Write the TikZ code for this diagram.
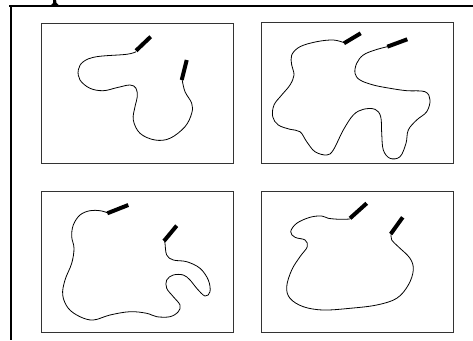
\documentclass[tikz,border=0pt]{standalone}
\begin{document}
\begin{tikzpicture}[x=1pt,y=-1pt,
  frame/.style={draw=black!80,line width=0.9pt},
  rope/.style={draw=black,line width=0.8pt,smooth,tension=0.6},
  handle/.style={draw=black,line width=4pt,line cap=butt},
  border/.style={draw=black,line width=2.2pt}]
\useasboundingbox (0,0) rectangle (473,340);
% outer borders
\draw[border] (9,6) -- (473,6);
\draw[border] (11,6) -- (11,340);
\fill (53,0) -- (56,0) -- (56.5,3) -- (58.5,5) -- (51,5) -- (53,3) -- cycle;
% frames
\draw[frame] (41,23) rectangle (233,163);
\draw[frame] (261,22) rectangle (453,163);
\draw[frame] (41,191) rectangle (233,332);
\draw[frame] (261,191) rectangle (453,332);
% panel 1
\draw[handle] (136,50.7) -- (150.7,36.7);
\draw[handle] (181.7,80) -- (186.7,60);
\draw[rope] plot coordinates {(136,51.7) (126.7,54.3) (96.7,56.7) (83.3,61.7) (78.3,70) (80,80) (90,88.3) (103.3,90.7) (116.7,87.7) (130,85) (136,88.3) (137.3,96.7) (135,106.7) (133.3,120) (140,133.3) (155,140) (170,138.3) (185,126.7) (191.7,113.3) (191.7,103.3) (185,91.7) (182.2,80)};
% panel 2
\draw[handle] (344,43.3) -- (360.7,33.3);
\draw[handle] (387.3,46.7) -- (407.3,39.3);
\draw[rope] plot coordinates {(344,42.7) (333.3,40) (316.7,41.7) (300,46.7) (291.7,55) (291.7,65) (294,75) (290,85) (281.7,95) (274,105) (272.7,116.7) (278.3,125) (290,129.3) (300,131.7) (306.7,141.7) (315,151.7) (326.7,155) (333.3,150) (343.3,130) (353.3,115) (363.3,109.3) (375,109.3) (380.7,116.7) (381.7,133.3) (383.3,150) (390,158.3) (400,156.7) (406,143.3) (408.3,130) (416.7,120) (426.7,111.7) (430,100) (425,91.7) (406.7,90.7) (390,88.3) (373.3,85) (360,80) (355,73.3) (356.7,63.3) (363.3,55) (375,50) (387.3,46.7)};
% panel 3
\draw[handle] (107.3,213.3) -- (128.3,205);
\draw[handle] (164,241) -- (176.7,225.7);
\draw[rope] plot coordinates {(107.3,212.7) (100,210.7) (90,210.7) (80,215) (73.3,225) (71.7,236.7) (74,248.3) (71.7,263.3) (65,280) (62.7,295) (68.3,308.3) (80,316.7) (93.3,320) (110,315) (130,311.7) (146.7,313.3) (156.7,316.7) (170,316.7) (178.3,311.7) (180,305) (173.3,296.7) (166.7,288.3) (166.7,280) (173.3,275) (183.3,275) (190,280) (196.7,288.3) (205,296) (210,291.7) (208.3,280) (200,268.3) (186.7,261.7) (173.3,260) (166.7,255) (165,243.3) (164.5,241)};
% panel 4
\draw[handle] (350,218.3) -- (366.7,203.3);
\draw[handle] (390.7,234) -- (402.7,217.3);
\draw[rope] plot coordinates {(350,219) (340,219.3) (328.3,218.3) (321.7,216) (310,217.3) (296.7,223.3) (290.7,231.7) (295,237.3) (305,240) (307.3,246.7) (300,256.7) (291.7,270) (286.7,286.7) (290,298.3) (303.3,306.7) (323.3,310) (350,308.3) (376.7,305) (396.7,298.3) (408.3,285) (413.3,270) (410,258.3) (398.3,246.7) (391.7,240) (391.2,234)};
\end{tikzpicture}
\end{document}
